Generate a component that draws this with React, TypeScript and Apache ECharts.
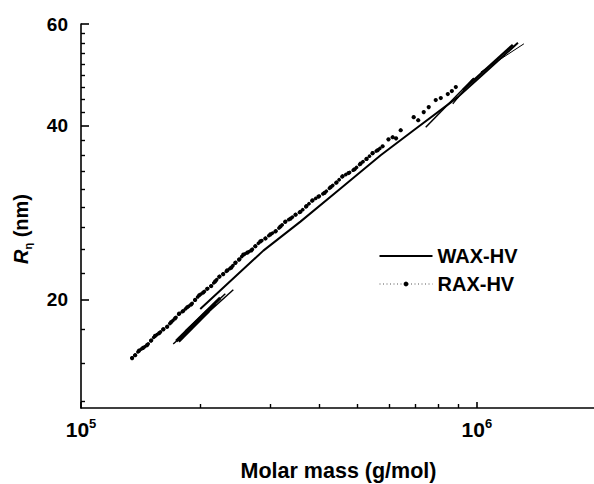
import React, { useEffect, useRef } from "react";
import * as echarts from "echarts";

const FONT = "'Liberation Sans', Arial, Helvetica, sans-serif";

// Axis ticks
const xMajorTicks = [1e5, 1e6];
const xMinorTicks = [2e5, 3e5, 4e5, 5e5, 6e5, 7e5, 8e5, 9e5, 2e6];
const yMajorTicks = [20, 40, 60];
const yMinorTicks = [
  13.33, 15.56, 17.78, 22.22, 24.44, 26.67, 28.89, 31.11, 33.33, 35.56, 37.78,
  42.22, 44.44, 46.67, 48.89, 51.11, 53.33, 55.56, 57.78,
];

// RAX-HV (dotted) : molar mass (g/mol) and R_eta (nm) — dense lower part
const raxLowMass = [
  134600, 137000, 140200, 143500, 146900, 150400, 153900, 157500, 161300, 165100,
  169000, 172900, 177000, 181200, 185500, 189800, 194300, 198900, 203600, 208400,
  213300, 218300, 223500, 228700, 234100, 239700, 245300, 251200, 257100, 263200,
  269400, 275700, 283900, 292300, 300900, 309800, 319000, 328400, 338100, 348200,
  358400, 371200, 384400, 398100, 412300, 427000, 442100, 457900, 474200, 491000,
  508500, 526600, 545300, 561500, 578100,
];
const raxLowRadius = [
  15.86, 16.04, 16.34, 16.52, 16.70, 17.01, 17.33, 17.51, 17.78, 17.97,
  18.31, 18.58, 18.93, 19.13, 19.42, 19.63, 20.0, 20.37, 20.59, 20.9,
  21.13, 21.53, 21.93, 22.16, 22.49, 22.74, 23.17, 23.5, 23.94, 24.14,
  24.36, 24.76, 25.25, 25.54, 25.96, 26.26, 26.78, 27.31, 27.63, 28.07,
  28.4, 29.05, 29.72, 30.17, 30.62, 31.32, 31.92, 32.72, 33.14, 33.64,
  34.41, 35.06, 35.87, 36.29, 36.87,
];
// RAX-HV — sparse upper part
const raxHighMass = [598000, 612900, 625000, 642200, 692600, 711000, 734200, 755900, 787400, 810800, 844600, 864600, 884900];
const raxHighRadius = [37.9, 38.22, 38.05, 39.3, 41.4, 40.9, 42.24, 43.09, 44.32, 44.68, 45.4, 45.94, 46.68];

// WAX-HV (solid) : several traces
const waxMainMass = [200100, 288900, 358400, 452600, 571500, 692600, 895400, 1066000, 1270000];
const waxMainRadius = [19.29, 24.33, 27.31, 31.17, 35.57, 39.3, 44.84, 49.96, 55.66];
const waxLow1Mass = [171000, 242500];
const waxLow1Radius = [16.77, 20.82];
const waxLow2Mass = [174000, 224800];
const waxLow2Radius = [16.97, 20.16];
const waxLow3Mass = [176100, 209700];
const waxLow3Radius = [16.97, 19.14];
const waxLow4Mass = [178100, 218400];
const waxLow4Radius = [17.11, 19.68];
const waxLow5Mass = [183400, 231500];
const waxLow5Radius = [17.67, 20.49];
const waxHigh1Mass = [742800, 982600];
const waxHigh1Radius = [39.78, 48.39];
const waxHigh2Mass = [869600, 977000];
const waxHigh2Radius = [43.63, 48.2];
const waxHigh3Mass = [921700, 1233000];
const waxHigh3Radius = [46.12, 55.22];
const waxHigh4Mass = [1023500, 1315000];
const waxHigh4Radius = [49.56, 55.45];

const zip = (a: number[], b: number[]) => a.map((v, i) => [v, b[i]]);

const waxTraces: { m: number[]; r: number[]; w: number }[] = [
  { m: waxMainMass, r: waxMainRadius, w: 2 },
  { m: waxLow1Mass, r: waxLow1Radius, w: 1.5 },
  { m: waxLow2Mass, r: waxLow2Radius, w: 3 },
  { m: waxLow3Mass, r: waxLow3Radius, w: 4 },
  { m: waxLow4Mass, r: waxLow4Radius, w: 3 },
  { m: waxLow5Mass, r: waxLow5Radius, w: 1.5 },
  { m: waxHigh1Mass, r: waxHigh1Radius, w: 1.5 },
  { m: waxHigh2Mass, r: waxHigh2Radius, w: 1.2 },
  { m: waxHigh3Mass, r: waxHigh3Radius, w: 2.5 },
  { m: waxHigh4Mass, r: waxHigh4Radius, w: 1 },
];

export default function App() {
  const ref = useRef<HTMLDivElement>(null);
  useEffect(() => {
    if (!ref.current) return;
    const chart = echarts.init(ref.current, undefined, { renderer: "svg" });
    const bold = { fontFamily: FONT, fontWeight: "bold" as const, color: "#000" };
    const series: any[] = [
      {
        name: "RAX-HV",
        type: "line",
        data: zip(raxLowMass, raxLowRadius),
        symbol: "circle",
        symbolSize: 4.2,
        showSymbol: true,
        lineStyle: { color: "#000", width: 3.6, type: [0.1, 4.2], cap: "round" },
        itemStyle: { color: "#000" },
        z: 3,
      },
      {
        name: "RAX-HV",
        type: "line",
        data: zip(raxHighMass, raxHighRadius),
        symbol: "circle",
        symbolSize: 4.2,
        showSymbol: true,
        lineStyle: { opacity: 0, width: 0 },
        itemStyle: { color: "#000" },
        z: 3,
      },
    ];
    waxTraces.forEach((t) =>
      series.push({
        name: "WAX-HV",
        type: "line",
        data: zip(t.m, t.r),
        symbol: "none",
        lineStyle: { color: "#000", width: t.w },
        itemStyle: { color: "#000" },
        z: 2,
      })
    );
    const tickLine = (w: number) => ({ color: "#000", width: w });
    chart.setOption({
      animation: false,
      backgroundColor: "#fff",
      grid: { left: 81, right: -2, top: 24, bottom: 76, containLabel: false, outerBoundsMode: "none" },
      legend: {
        orient: "vertical",
        left: 374,
        top: 241,
        itemWidth: 53,
        itemHeight: 6,
        itemGap: 8,
        selectedMode: false,
        textStyle: { ...bold, fontSize: 20 },
        data: [
          {
            name: "WAX-HV",
            icon: "path://M0,0L53,0L53,2.2L0,2.2Z",
            itemStyle: { color: "#000" },
          },
          {
            name: "RAX-HV",
            lineStyle: { width: 1, color: "#555", type: [1, 2.5], cap: "butt", opacity: 1 },
            itemStyle: { color: "#000" },
          },
        ],
      },
      xAxis: [
        {
          type: "log",
          logBase: 10,
          min: 1e5,
          max: 2e6,
          position: "bottom",
          axisLine: { show: true, onZero: false, lineStyle: { color: "#000", width: 1.6 } },
          axisTick: { show: true, inside: true, length: 6, customValues: xMajorTicks, lineStyle: tickLine(1.6) },
          axisLabel: {
            customValues: xMajorTicks,
            margin: 9,
            formatter: (v: number) => `{b|10}{s|${Math.round(Math.log10(v))}}`,
            rich: {
              b: { ...bold, fontSize: 21, lineHeight: 24 },
              s: { ...bold, fontSize: 13, lineHeight: 13, verticalAlign: "top" },
            },
          },
          splitLine: { show: false },
          name: "Molar mass (g/mol)",
          nameLocation: "middle",
          nameGap: 52,
          nameTextStyle: { ...bold, fontSize: 21.5 },
        },
        {
          type: "log",
          logBase: 10,
          min: 1e5,
          max: 2e6,
          position: "bottom",
          axisLine: { show: false, onZero: false },
          axisTick: { show: true, inside: true, length: 4, customValues: xMinorTicks, lineStyle: tickLine(1.4) },
          axisLabel: { show: false },
          splitLine: { show: false },
        },
      ],
      yAxis: [
        {
          type: "log",
          logBase: 10,
          min: 13,
          max: 60,
          position: "left",
          axisLine: { show: true, onZero: false, lineStyle: { color: "#000", width: 1.6 } },
          axisTick: { show: true, inside: true, length: 8, customValues: yMajorTicks, lineStyle: tickLine(1.6) },
          axisLabel: { customValues: yMajorTicks, margin: 13, ...bold, fontSize: 19 },
          splitLine: { show: false },
          name: "{i|R}{s|η}{n| (nm)}",
          nameLocation: "middle",
          nameGap: 48,
          nameRotate: 90,
          nameTextStyle: {
            ...bold,
            fontSize: 20,
            padding: [0, 26, 0, 0],
            rich: {
              i: { ...bold, fontSize: 20, fontStyle: "italic", lineHeight: 24 },
              s: { ...bold, fontSize: 11, lineHeight: 11, verticalAlign: "bottom" },
              n: { ...bold, fontSize: 20, lineHeight: 24 },
            },
          },
        },
        {
          type: "log",
          logBase: 10,
          min: 13,
          max: 60,
          position: "left",
          axisLine: { show: false, onZero: false },
          axisTick: { show: true, inside: true, length: 4, customValues: yMinorTicks, lineStyle: tickLine(1.4) },
          axisLabel: { show: false },
          splitLine: { show: false },
        },
      ],
      series,
    });
    return () => chart.dispose();
  }, []);
  return (
    <div
      ref={ref}
      style={{ position: "absolute", left: 0, top: 0, width: 594, height: 484, background: "#fff" }}
    />
  );
}
